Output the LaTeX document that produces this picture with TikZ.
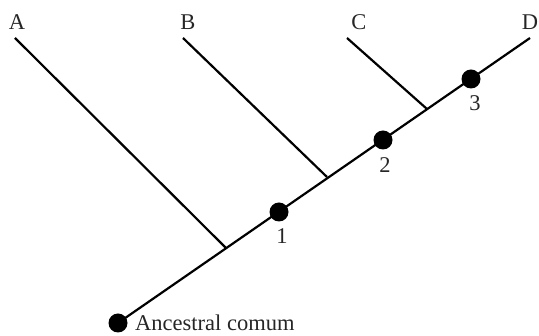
\documentclass[tikz,border=0pt]{standalone}
\usepackage{fontspec}
\setmainfont{Liberation Serif}
\begin{document}
\begin{tikzpicture}[x=1pt,y=-1pt,
  branch/.style={line width=2.2pt,black},
  dotnode/.style={circle,fill=black,inner sep=0pt,minimum size=19pt},
  lbl/.style={font=\fontsize{22.5}{24}\selectfont,inner sep=0pt,anchor=base,text=black!85}]
\useasboundingbox (0,0) rectangle (539,336);
% tips and junctions
\coordinate (tA) at (15,38);
\coordinate (tB) at (183,38);
\coordinate (tC) at (347,38);
\coordinate (tD) at (530,38);
\coordinate (jA) at (226,248);
\coordinate (jB) at (327,177);
\coordinate (jC) at (427,109);
% dots
\node[dotnode] (r) at (118,323) {};
\node[dotnode] (d1) at (279,212) {};
\node[dotnode] (d2) at (383,140) {};
\node[dotnode] (d3) at (471,79) {};
% lines
\draw[branch] (r.center) -- (tD);
\draw[branch] (jA) -- (tA);
\draw[branch] (jB) -- (tB);
\draw[branch] (jC) -- (tC);
% labels
\node[lbl] (lA) at (17,30) {A};
\node[lbl] (lB) at (188,30) {B};
\node[lbl] (lC) at (359,30) {C};
\node[lbl] (lD) at (530,30) {D};
\node[lbl] (l1) at (282,244) {1};
\node[lbl] (l2) at (385,173) {2};
\node[lbl] (l3) at (475,111) {3};
\node[lbl,anchor=base west] (anc) at (135,331) {Ancestral comum};
\end{tikzpicture}
\end{document}
